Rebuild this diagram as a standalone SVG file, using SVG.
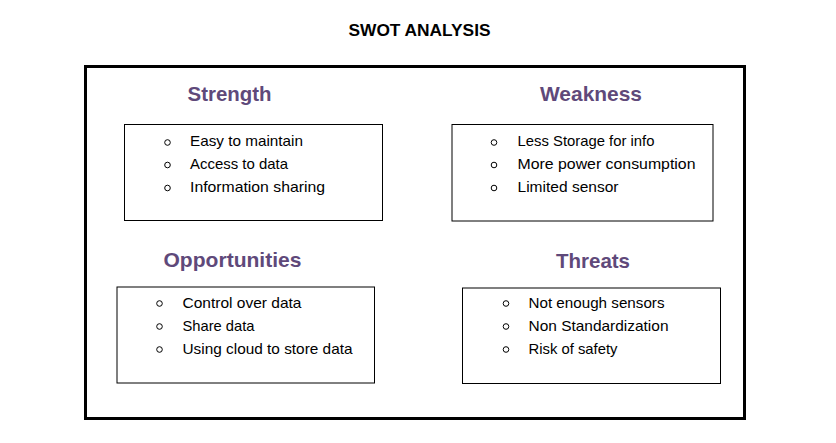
<svg xmlns="http://www.w3.org/2000/svg" width="836" height="443" viewBox="0 0 836 443">
  <style>
    .title { font-family: "Liberation Sans", Arial, sans-serif; font-weight: bold; font-size: 16px; fill: #000; }
    .head { font-family: "Liberation Sans", Arial, sans-serif; font-weight: bold; font-size: 21px; fill: #5F497A; }
    .item { font-family: "Liberation Sans", Arial, sans-serif; font-size: 15px; fill: #000; }
    .box { fill: #fff; stroke: #000; stroke-width: 1; }
    .dot { fill: none; stroke: #000; stroke-width: 1; }
  </style>
  <rect width="836" height="443" fill="#fff"/>

  <text class="title" x="348.5" y="36" textLength="142" lengthAdjust="spacingAndGlyphs">SWOT ANALYSIS</text>

  <!-- outer frame -->
  <rect x="85.5" y="66.5" width="659" height="352" fill="none" stroke="#000" stroke-width="3"/>

  <g id="strength">
    <text class="head" x="187.5" y="101" textLength="84" lengthAdjust="spacingAndGlyphs">Strength</text>
    <rect class="box" x="124.5" y="124.5" width="258" height="96"/>
    <circle class="dot" cx="167.5" cy="142.5" r="2.8"/>
    <circle class="dot" cx="167.5" cy="165" r="2.8"/>
    <circle class="dot" cx="167.5" cy="188" r="2.8"/>
    <text class="item" x="190" y="146" textLength="113" lengthAdjust="spacingAndGlyphs">Easy to maintain</text>
    <text class="item" x="190" y="168.5" textLength="98" lengthAdjust="spacingAndGlyphs">Access to data</text>
    <text class="item" x="190" y="191.5" textLength="135" lengthAdjust="spacingAndGlyphs">Information sharing</text>
  </g>

  <g id="weakness">
    <text class="head" x="540" y="101" textLength="102" lengthAdjust="spacingAndGlyphs">Weakness</text>
    <rect class="box" x="452" y="124.5" width="261" height="96.5"/>
    <circle class="dot" cx="494" cy="142.5" r="2.8"/>
    <circle class="dot" cx="494" cy="165" r="2.8"/>
    <circle class="dot" cx="494" cy="188" r="2.8"/>
    <text class="item" x="517.5" y="146" textLength="137" lengthAdjust="spacingAndGlyphs">Less Storage for info</text>
    <text class="item" x="517.5" y="168.5" textLength="178" lengthAdjust="spacingAndGlyphs">More power consumption</text>
    <text class="item" x="517.5" y="191.5" textLength="101" lengthAdjust="spacingAndGlyphs">Limited sensor</text>
  </g>

  <g id="opportunities">
    <text class="head" x="163.5" y="267" textLength="138" lengthAdjust="spacingAndGlyphs">Opportunities</text>
    <rect class="box" x="117" y="287" width="257.5" height="96"/>
    <circle class="dot" cx="159.5" cy="303.5" r="2.8"/>
    <circle class="dot" cx="159.5" cy="326.5" r="2.8"/>
    <circle class="dot" cx="159.5" cy="349.5" r="2.8"/>
    <text class="item" x="182.5" y="307.5" textLength="119" lengthAdjust="spacingAndGlyphs">Control over data</text>
    <text class="item" x="182.5" y="330.5" textLength="72" lengthAdjust="spacingAndGlyphs">Share data</text>
    <text class="item" x="182.5" y="354" textLength="170" lengthAdjust="spacingAndGlyphs">Using cloud to store data</text>
  </g>

  <g id="threats">
    <text class="head" x="556" y="267.5" textLength="74" lengthAdjust="spacingAndGlyphs">Threats</text>
    <rect class="box" x="462.5" y="288" width="258" height="95.5"/>
    <circle class="dot" cx="506" cy="303.5" r="2.8"/>
    <circle class="dot" cx="506" cy="326.5" r="2.8"/>
    <circle class="dot" cx="506" cy="349.5" r="2.8"/>
    <text class="item" x="528.5" y="308" textLength="136" lengthAdjust="spacingAndGlyphs">Not enough sensors</text>
    <text class="item" x="528.5" y="331" textLength="140" lengthAdjust="spacingAndGlyphs">Non Standardization</text>
    <text class="item" x="528.5" y="354" textLength="89" lengthAdjust="spacingAndGlyphs">Risk of safety</text>
  </g>

  <g id="connectors"></g>
</svg>
